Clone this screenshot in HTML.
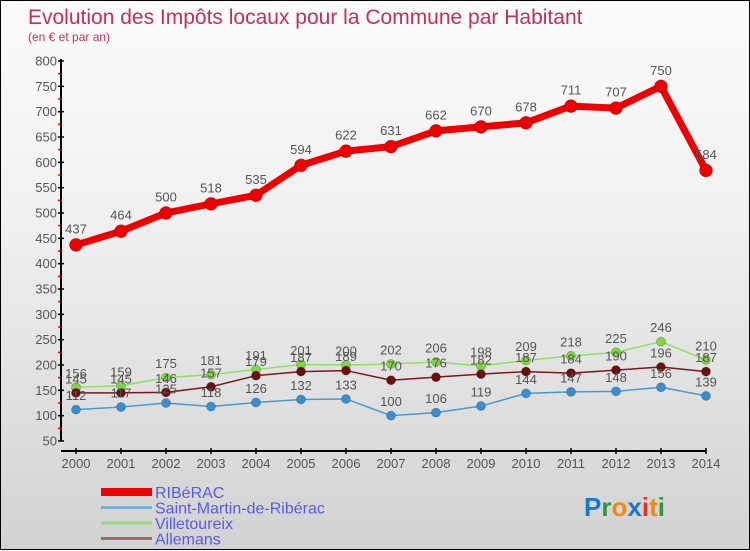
<!DOCTYPE html>
<html><head><meta charset="utf-8"><style>
html,body{margin:0;padding:0}
body{width:750px;height:550px;overflow:hidden;font-family:"Liberation Sans",sans-serif}
#wrap{position:relative;width:748px;height:548px;border:1px solid #000;background:linear-gradient(#fbfbfb,#f0f0f0 40%,#d2d2d2)}
svg{position:absolute;left:0;top:0}
</style></head><body>
<div id="wrap">
<svg id="chart" width="750" height="550">
<text x="27" y="23" font-size="21" fill="#c0305a">Evolution des Impôts locaux pour la Commune par Habitant</text>
<text x="27" y="40" font-size="12" fill="#c0305a">(en € et par an)</text>
<g id="axes"></g>
<g id="series"></g>
<g id="legend"></g>
<g font-size="26" font-weight="bold" font-family="Liberation Sans, sans-serif">
<text x="583" y="515"><tspan fill="#1a78d0">P</tspan><tspan fill="#2a9a3a">r</tspan><tspan fill="#f08a10">o</tspan><tspan fill="#1a78d0">x</tspan><tspan fill="#e83020">i</tspan><tspan fill="#f08a10">t</tspan><tspan fill="#2a9a3a">i</tspan></text>
</g>
</svg>
</div>
<script>
const years=[2000,2001,2002,2003,2004,2005,2006,2007,2008,2009,2010,2011,2012,2013,2014];
const yTicks=[50,100,150,200,250,300,350,400,450,500,550,600,650,700,750,800];
const riberac=[437,464,500,518,535,594,622,631,662,670,678,711,707,750,584];
const saintMartin=[112,117,125,118,126,132,133,100,106,119,144,147,148,156,139];
const villetoureix=[156,159,175,181,191,201,200,202,206,198,209,218,225,246,210];
const allemans=[145,145,146,157,179,187,189,170,176,182,187,184,190,196,187];
const NS="http://www.w3.org/2000/svg";
function xS(i){return 75+i*45;}
function yS(v){return 440-(v-50)*380/750;}
function mk(tag,attrs,parent){const e=document.createElementNS(NS,tag);for(const k in attrs)e.setAttribute(k,attrs[k]);parent.appendChild(e);return e;}
const axes=document.getElementById('axes');
let a=mk('line',{x1:60,y1:58,x2:60,y2:440,stroke:'#000','stroke-width':2},axes);


a=mk('line',{x1:60,y1:450,x2:705,y2:450,stroke:'#000','stroke-width':2},axes);


yTicks.forEach(v=>{
  const y=yS(v);
  mk('line',{x1:57,y1:y,x2:63,y2:y,stroke:'#000','stroke-width':1.5},axes);
  if(v<800) mk('line',{x1:57,y1:y-12.7,x2:60,y2:y-12.7,stroke:'#e00','stroke-width':1.5},axes);
  const t=mk('text',{x:56,y:y+4.5,'font-size':13,fill:'#555','text-anchor':'end'},axes);
  t.textContent=v;
  
  
});
years.forEach((yr,i)=>{
  const x=xS(i);
  mk('line',{x1:x,y1:447,x2:x,y2:453,stroke:'#000','stroke-width':1.5},axes);
  const t=mk('text',{x:x,y:467,'font-size':13,fill:'#555','text-anchor':'middle'},axes);
  t.textContent=yr;
  
  
});
const ser=document.getElementById('series');
function drawSeries(vals,color,dot,w,r,name){
  const g=mk('g',{},ser);
  
  
  const pts=vals.map((v,i)=>xS(i)+','+yS(v)).join(' ');
  mk('polyline',{points:pts,fill:'none',stroke:color,'stroke-width':w,'stroke-linejoin':'round'},g);
  vals.forEach((v,i)=>{
    const c=mk('circle',{cx:xS(i),cy:yS(v),r:r,fill:dot,stroke:'rgba(0,0,0,0.25)','stroke-width':0.8},g);
    
    
    const t=mk('text',{x:xS(i),y:yS(v)-(r+5),'font-size':13,fill:'#555','text-anchor':'middle'},g);
    t.textContent=v;
    
    
  });
}
drawSeries(villetoureix,'#8ee060','#7ed840',1.5,4.5,'villetoureix');
drawSeries(allemans,'#7a1a1a','#6a1010',1.5,4.5,'allemans');
drawSeries(saintMartin,'#4a9ad0','#3a8ed0',1.5,4.5,'saint-martin');
drawSeries(riberac,'#ee0000','#ee0000',7,6.5,'riberac');
const leg=document.getElementById('legend');
const names=['RIBéRAC','Saint-Martin-de-Ribérac','Villetoureix','Allemans'];
const cols=['#ee0000','#7aaed0','#9ad880','#9a6a6a'];
const ws=[8,3,3,3];
names.forEach((n,i)=>{
  const y=491+i*15.5;
  const l=mk('line',{x1:100,y1:y,x2:151,y2:y,stroke:cols[i],'stroke-width':ws[i]},leg);
  
  
  const t=mk('text',{x:154,y:y+6,'font-size':16,fill:'#5a5ae0'},leg);
  t.textContent=n;
  
  
});
</script>
</body></html>
